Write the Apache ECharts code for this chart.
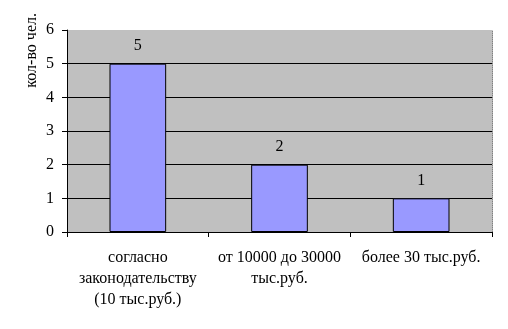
<!DOCTYPE html>
<html><head><meta charset="utf-8">
<script src="https://cdn.jsdelivr.net/npm/echarts@6/dist/echarts.min.js"></script>
<style>html,body{margin:0;padding:0;background:#fff}#c{width:508px;height:329px}</style>
</head><body><div id="c"></div>
<script>
const categories = ['согласно\nзаконодательству\n(10 тыс.руб.)', 'от 10000 до 30000\nтыс.руб.', 'более 30 тыс.руб.'];
const values = [5, 2, 1];
const yAxisName = 'кол-во чел.';
const FONT = 'Liberation Serif';
const chart = echarts.init(document.getElementById('c'));
chart.setOption({
  animation: false,
  backgroundColor: '#ffffff',
  grid: { left: 67, right: 16, top: 30, bottom: 97, show: true, backgroundColor: '#c0c0c0', borderWidth: 0 },
  graphic: [{
    type: 'text', left: 24, top: 13, rotation: Math.PI / 2,
    style: { text: yAxisName, fontFamily: FONT, fontSize: 16, fill: '#000' }
  }],
  xAxis: {
    type: 'category', data: categories,
    axisLine: { lineStyle: { color: '#000', width: 1 } },
    axisTick: { show: true, length: 5, lineStyle: { color: '#000' } },
    axisLabel: { color: '#000', fontFamily: FONT, fontSize: 16, lineHeight: 21, margin: 15, interval: 0 }
  },
  yAxis: [{
    type: 'value', min: 0, max: 6, interval: 1,
    axisLine: { show: true, lineStyle: { color: '#000' } },
    axisTick: { show: true, length: 5, lineStyle: { color: '#000' } },
    axisLabel: { color: '#000', fontFamily: FONT, fontSize: 16, margin: 13 },
    splitLine: { show: true, showMaxLine: false, showMinLine: false, lineStyle: { color: '#000', width: 1 } }
  }, {
    type: 'value', min: 0, max: 6, interval: 1, position: 'right',
    axisLine: { show: true, lineStyle: { color: '#808080', type: [1, 1] } },
    axisTick: { show: false }, axisLabel: { show: false }, splitLine: { show: false }
  }],
  series: [{
    type: 'bar', data: values, barWidth: '40%',
    itemStyle: { color: '#9999ff', borderColor: '#000', borderWidth: 1 },
    label: { show: true, position: 'top', distance: 10, color: '#000', fontFamily: FONT, fontSize: 16 }
  }]
});
</script></body></html>
